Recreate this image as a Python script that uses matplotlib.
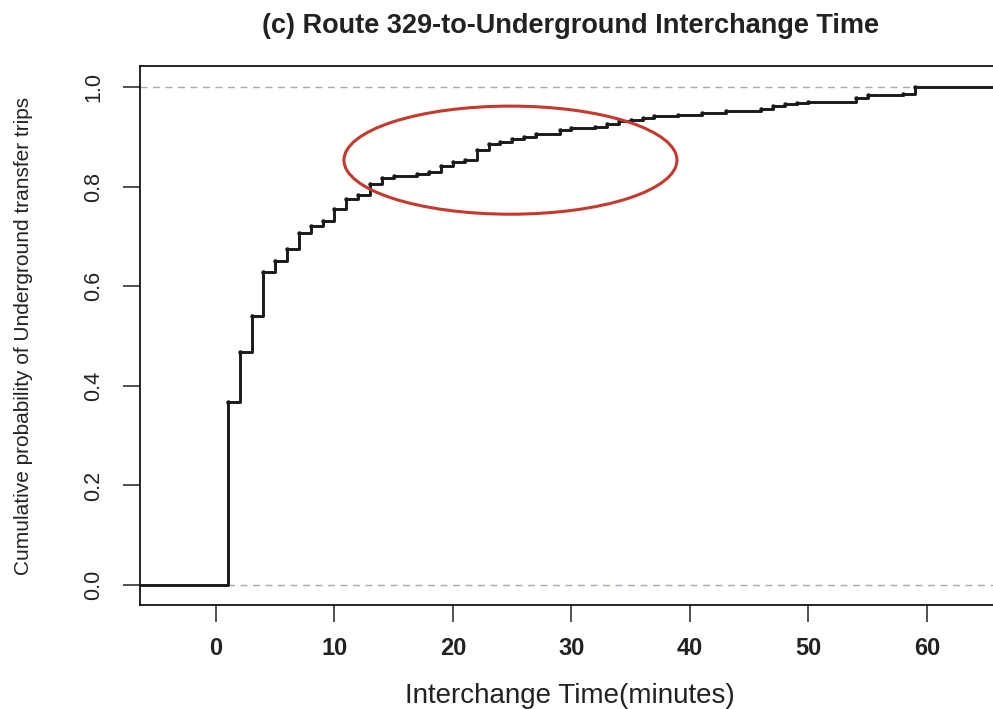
import matplotlib
matplotlib.use('Agg')
import matplotlib.pyplot as plt
from matplotlib.patches import Ellipse

plt.rcParams['font.family'] = ['Liberation Sans', 'DejaVu Sans']

# ECDF steps (minutes, cumulative probability)
times = [1, 2, 3, 4, 5, 6, 7, 8, 9, 10, 11, 12, 13, 14, 15, 17, 18, 19, 20,
         21, 22, 23, 24, 25, 26, 27, 29, 30, 32, 33, 34, 35, 36, 37, 39, 41,
         43, 46, 47, 48, 49, 50, 54, 55, 58, 59]
probs = [0.368, 0.467, 0.541, 0.628, 0.651, 0.674, 0.707, 0.720, 0.731, 0.754,
         0.776, 0.783, 0.806, 0.818, 0.822, 0.825, 0.829, 0.841, 0.850, 0.854,
         0.873, 0.885, 0.890, 0.896, 0.900, 0.905, 0.913, 0.917, 0.920, 0.925,
         0.931, 0.934, 0.937, 0.941, 0.944, 0.948, 0.952, 0.956, 0.961, 0.965,
         0.967, 0.970, 0.977, 0.983, 0.986, 1.0]

xticks = [0, 10, 20, 30, 40, 50, 60]
yticks = [0.0, 0.2, 0.4, 0.6, 0.8, 1.0]

# highlighted region (centre, width, height in data units)
circle_centre = (24.85, 0.853)
circle_w, circle_h = 28.1, 0.217

xmin, xmax = -6.41, 66.16
ymin, ymax = -0.04, 1.042

fig = plt.figure(figsize=(9.93, 7.09), dpi=100)
ax = fig.add_axes([140 / 993, 104 / 709, 860 / 993, 539 / 709])
ax.set_xlim(xmin, xmax)
ax.set_ylim(ymin, ymax)

# 0 and 1 reference lines
for yv in (0, 1):
    ax.axhline(yv, color='#a8a8b8', lw=1.0, ls=(0, (5, 4)), zorder=1)

xs = [xmin] + times + [xmax]
ys = [0] + probs + [probs[-1]]
ax.step(xs, ys, where='post', color='#1a1a1a', lw=2.1, zorder=3)
ax.plot(times, probs, 'o', color='#1a1a1a', markersize=2.2, zorder=3)

ax.add_patch(Ellipse(circle_centre, circle_w, circle_h, fill=False,
                     ec='#c53a2e', lw=2.2, zorder=4))

ax.set_xticks(xticks)
ax.set_xticklabels([str(t) for t in xticks], fontsize=17, fontweight='bold')
ax.set_yticks(yticks)
ax.set_yticklabels([f'{t:.1f}' for t in yticks], rotation=90, va='center',
                   fontsize=15.5)
ax.tick_params(axis='both', length=12, width=1.1, color='#222222',
               labelcolor='#222222')
ax.tick_params(axis='x', pad=11)
ax.tick_params(axis='y', pad=14)
for s in ax.spines.values():
    s.set_linewidth(1.2)

ax.set_xlabel('Interchange Time(minutes)', fontsize=20, color='#222222')
ax.xaxis.set_label_coords(0.5, -0.145)
ax.set_ylabel('Cumulative probability of Underground transfer trips',
              fontsize=15, color='#222222')
ax.yaxis.set_label_coords(-0.124, 0.5)
ax.set_title('(c) Route 329-to-Underground Interchange Time', fontsize=19.5,
             fontweight='bold', pad=24, color='#222222')

fig.savefig('out.png', dpi=100)
